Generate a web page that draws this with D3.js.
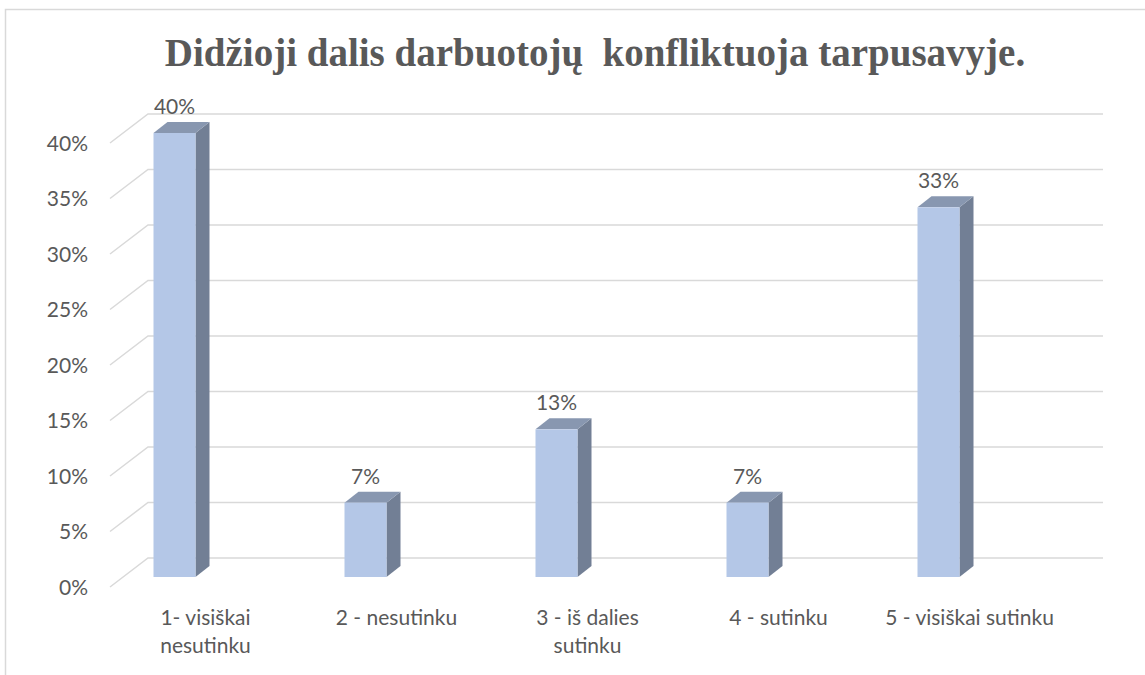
<!DOCTYPE html>
<html>
<head>
<meta charset="utf-8">
<script src="https://cdn.jsdelivr.net/npm/d3@7"></script>
<style>
  body { margin: 0; background: #fff; }
  svg text { font-family: Lato, "Open Sans", sans-serif; fill: #595959; }
</style>
</head>
<body>
<svg></svg>
<script>
var WIDTH = 1145;
var HEIGHT = 675;

// data
var categories = ["1- visiškai nesutinku", "2 - nesutinku", "3 - iš dalies sutinku", "4 - sutinku", "5 - visiškai sutinku"];
var categoryLines = [["1- visiškai", "nesutinku"], ["2 - nesutinku"], ["3 - iš dalies", "sutinku"], ["4 - sutinku"], ["5 - visiškai sutinku"]];
var values = [40, 6.7, 13.3, 6.7, 33.3];
var valueLabels = ["40%", "7%", "13%", "7%", "33%"];
var yTicks = [0, 5, 10, 15, 20, 25, 30, 35, 40];
var title = "Didžioji dalis darbuotojų  konfliktuoja tarpusavyje.";

// 3d-ish layout
var frontBase = 587;   // 0% on the front edge of the floor
var backBase = 558;    // 0% on the back wall
var barBase = 577;     // bar front face bottom
var floorDx = 38;
var barW = 42, barDx = 14, barDy = 11;

var svg = d3.select("svg")
    .attr("width", WIDTH)
    .attr("height", HEIGHT);

// chart border
svg.append("rect")
    .attr("x", 5.5)
    .attr("y", 9.5)
    .attr("width", WIDTH + 10)
    .attr("height", HEIGHT + 10)
    .attr("fill", "none")
    .attr("stroke", "#d9d9d9")
    .attr("stroke-width", 1.5);

svg.append("text")
    .attr("x", 595)
    .attr("y", 66)
    .attr("text-anchor", "middle")
    .style("white-space", "pre")
    .style("font-family", "'Liberation Serif', 'Times New Roman', serif")
    .style("font-weight", "bold")
    .style("font-size", "39px")
    .text(title);

var x = d3.scaleBand()
    .domain(categories)
    .range([110, 1065]);

var h = d3.scaleLinear()
    .domain([0, 40])
    .range([0, 444]);

// gridlines: side wall diagonal + back wall
svg.selectAll("path.grid")
    .data(yTicks)
    .enter()
    .append("path")
    .attr("class", "grid")
    .attr("d", function(d) {
        return "M110," + (frontBase - h(d)) +
            "L" + (110 + floorDx) + "," + (backBase - h(d)) +
            "L1103," + (backBase - h(d));
    })
    .attr("fill", "none")
    .attr("stroke", "#d9d9d9")
    .attr("stroke-width", 1.5);

svg.selectAll("text.ytick")
    .data(yTicks)
    .enter()
    .append("text")
    .attr("class", "ytick")
    .attr("x", 88)
    .attr("y", function(d) { return frontBase - h(d); })
    .attr("dy", "0.36em")
    .attr("text-anchor", "end")
    .style("font-size", "21px")
    .text(function(d) { return d + "%"; });

function barLeft(c) {
    return x(c) + x.bandwidth() / 2 - 52;
}

var bars = svg.selectAll("g.bar")
    .data(values)
    .enter()
    .append("g")
    .attr("class", "bar");

// side face
bars.append("path")
    .attr("d", function(d, i) {
        var x0 = barLeft(categories[i]) + barW, top = barBase - h(d);
        return "M" + x0 + "," + top + "L" + (x0 + barDx) + "," + (top - barDy) +
            "L" + (x0 + barDx) + "," + (barBase - barDy) + "L" + x0 + "," + barBase + "Z";
    })
    .attr("fill", "#727f95");

// top face
bars.append("path")
    .attr("d", function(d, i) {
        var x0 = barLeft(categories[i]), top = barBase - h(d);
        return "M" + x0 + "," + top + "L" + (x0 + barDx) + "," + (top - barDy) +
            "L" + (x0 + barW + barDx) + "," + (top - barDy) + "L" + (x0 + barW) + "," + top + "Z";
    })
    .attr("fill", "#8897b0");

// front face
bars.append("rect")
    .attr("x", function(d, i) { return barLeft(categories[i]); })
    .attr("y", function(d) { return barBase - h(d); })
    .attr("width", barW)
    .attr("height", function(d) { return h(d); })
    .attr("fill", "#b4c7e7");

bars.append("text")
    .attr("x", function(d, i) { return barLeft(categories[i]) + barW / 2; })
    .attr("y", function(d) { return barBase - h(d) - 19; })
    .attr("text-anchor", "middle")
    .style("font-size", "21px")
    .text(function(d, i) { return valueLabels[i]; });

// category labels
var catText = svg.selectAll("text.cat")
    .data(categories)
    .enter()
    .append("text")
    .attr("class", "cat")
    .attr("text-anchor", "middle")
    .style("font-size", "21px");

catText.selectAll("tspan")
    .data(function(d, i) {
        return categoryLines[i].map(function(t) { return { c: d, t: t }; });
    })
    .enter()
    .append("tspan")
    .attr("x", function(d) { return x(d.c) + x.bandwidth() / 2; })
    .attr("y", function(d, j) { return 625 + j * 28; })
    .text(function(d) { return d.t; });
</script>
</body>
</html>
